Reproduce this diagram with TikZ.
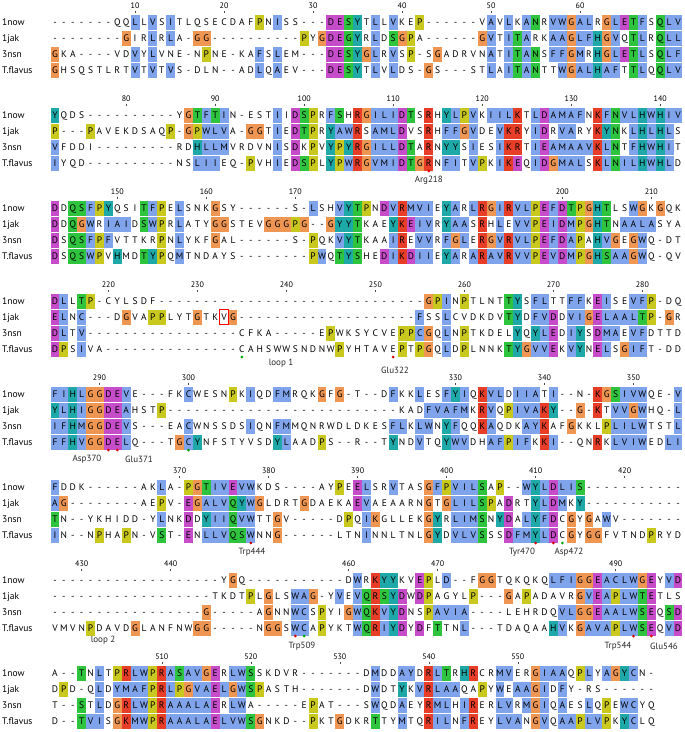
\documentclass[tikz,border=0pt]{standalone}
\usepackage{fontspec}
\setmainfont{PT Sans}

\definecolor{clxb}{RGB}{128,164,236}
\definecolor{clxr}{RGB}{232,62,40}
\definecolor{clxg}{RGB}{46,196,62}
\definecolor{clxm}{RGB}{198,76,202}
\definecolor{clxo}{RGB}{238,150,82}
\definecolor{clxy}{RGB}{200,200,30}
\definecolor{clxc}{RGB}{30,168,168}

\newcount\colno
\newcommand\rowy{0}
\newcommand\rowtag{}
\newcommand\putres[2]{%
  \pgfmathsetmacro\resx{55+(\the\colno-1)*8.9}%
  \if#2.\else\fill[clx#2] (\resx-4.45,\rowy-7.5) rectangle (\resx+4.45,\rowy+7.5);\fi
  \node[res] (\rowtag-\the\colno) at (\resx,\rowy+3.4) {#1};%
  \global\advance\colno by 1\relax}
\def\resloop#1#2\relax#3#4\relax{%
  \putres{#1}{#3}%
  \ifx\relax#2\relax\else\resloop#2\relax#4\relax\fi}
\newcommand\seqrow[5]{%
  \def\rowtag{#1}\def\rowy{#2}\global\colno=1\relax
  \node[seqname] (#1) at (2,#2+3.4) {#3};
  \resloop#4\relax#5\relax}
\newcommand\ruler[3]{%
  \foreach \num in {#3}{%
    \pgfmathsetmacro\rx{55+(\num-#2-1)*8.9}
    \node[rulenum] (num-\num) at (\rx,#1+6) {\num};
    \draw[tick] (\rx,#1+10.5) -- (\rx,#1+13);
  }}

\begin{document}
\begin{tikzpicture}[x=1pt,y=-1pt,
  res/.style={font=\fontsize{9.5}{11}\selectfont, inner sep=0pt, anchor=base},
  seqname/.style={font=\fontsize{9.5}{11}\selectfont, inner sep=0pt, anchor=base west},
  rulenum/.style={font=\fontsize{8}{9}\selectfont, inner sep=0pt},
  tick/.style={line width=0.5pt, black!70},
  site/.style={font=\fontsize{9}{10}\selectfont, inner sep=0pt, text=black!85},
  reddot/.style={circle, fill=red!85!black, inner sep=0pt, minimum size=3pt},
  greendot/.style={circle, fill=green!65!black, inner sep=0pt, minimum size=3pt}]
\useasboundingbox (0,0) rectangle (685,732);

\ruler{0}{0}{10,20,30,40,50,60}
\seqrow{k1-1now}{22}{1now}{-------QQL LVSITLQSEC DAFPNISS-- -DESYTLLVK EP------VA VLKANRVWGA LRGLETFSQL V}{.........b .b.b...... ...y.b.... .mmgc.b.b. .y.......b .b.bg.bbob b.obmgb.gb b}
\seqrow{k1-1jak}{38}{1jak}{--------GI RLRLA-GG-- --------PY GDEGYRLDSG PA------GV TITARKAAGL FHGVQTLRQL L}{........o. .b.b..oo.. ........y. ommgc.b.go y.......ob .bgb..bbob bcob.gb.gb b}
\seqrow{k1-3nsn}{54}{3nsn}{GKA----VDV YLVNE-NPNE -KAFSLEM-- -DESYGLRVS P-SGADRVNA TITANSFFGM RHGLETLSQL F}{o........b .b.....y.. ...b.b.... .mmgcob.b. y..o.....b .bgbg.bbob .cobmgb.gb b}
\seqrow{k1-tfl}{70}{T.flavus}{GHSQSTLRTV TVTVS-DLN- -ADLQAEV-- -DESYTLVLD S-GS---STL AITANTTWGA LHAFTTLQQL V}{o........b .b.b...... ...b.b.... .mmgc.b.b. ..o......b .bgbg..bob bcbb.gb.gb b}

\ruler{93}{71}{80,90,100,110,120,130,140}
\seqrow{k2-1now}{115}{1now}{YQDS------ ----YGTFTI N-ESTIIDSP RFSHRGILID TSRHYLPVKI ILKTLDAMAF NKFNVLHWHI V}{c......... .....ogbgb .....b.mgy .bg.robbbm g.r.cbyb.b bbr.bmbbbb .rbgbbcbcb b}
\seqrow{k2-1jak}{131}{1jak}{P---PAVEKD SAQP-GPWLV A-GGTIEDTP RYAWRSAMLD VSRHFFGVDE VKRYIDRVAR YKYNKLHLHL S}{y...y..... ...y.oybbb ..oo.b.mgy .cbbr.bbbm ..r.bbob.. brr.bm.bb. .rcg.bcbcb .}
\seqrow{k2-3nsn}{147}{3nsn}{VFDDI----- ----RDHLLM VRDVNISDKP VYPYRGILLD TARNYYSIES IKRTIEAMAA VKLNTFHWHI T}{b......... ......cbbb .....b.m.y .cycrobbbm g.r.cc.b.. brr.bmbbbb brbg.bcbcb .}
\seqrow{k2-tfl}{163}{T.flavus}{IYQD------ ----NSLIIE Q-PVHIEDSP LYPWRGVMID TGRNFITVPK IKEQIDGMAL SKLNILHWHL D}{b......... ......bbb. ..y..b.mgy .cybrobbbm gor.bb.by. brm.bmobbb .rbgbbcbcb .}
\node[reddot] (dot-arg218) at (428.8,171) {};
\node[site] (arg218) at (428.8,180) {Arg218};

\ruler{186}{142}{150,160,170,200,210}
\seqrow{k3-1now}{208}{1now}{DDQSFPYQSI TFPELSNKGS Y------S-L SHVYTPNDVR MVIEYARLRG IRVLPEFDTP GHTLSWGKGQ K}{m.ggbyc... gby.b...o. .........b ..bcgy.mbr bbb.cb.bro brbbymbmgy ocg..bo.o. .}
\seqrow{k3-1jak}{224}{1jak}{DDQGWRIAID SWPRLATYGG STEVGGGPG- -GYYTKAEYK EIVRYAASRH LEVVPEIDMP GHTNAALASY A}{m.gob.bbb. gby.b...oo ....oooyo. .occg...cr mbb.cbb.r. b.bbymbmby ocg.bbbb.. .}
\seqrow{k3-3nsn}{240}{3nsn}{DSQSFPFVTT KRPNLYKFGA L------S-P QKVYTKAAIR EVVRFGLERG VRVLPEFDAP AHVGEGWQ-D T}{m.ggbyb... ..y.b...o. .........y ..bcg...br .bb.bob.ro brbbymbmby .cbo.ob... .}
\seqrow{k3-tfl}{256}{T.flavus}{DSQSWPVHMD TYPQMTNDAY S--------P WQTYSHEDIK DIIEYARARA VRVVPEVDMP GHSAAGWQ-Q V}{m.ggby.c.. gcy.b..... .........y b.gcg..mbr mbb.cb.brb brbbymbmby ocgbbob... .}

\ruler{279}{213}{220,230,240,250,260,270,280}
\seqrow{k4-1now}{301}{1now}{DLLTP-CYLS DF-------- ---------- ---------- --GPINPTLN TTYSFLTTFF KEISEVFP-D Q}{mb.gy..... .......... .......... .......... ..oyb.y... .gc.bb..bb .mb..bby.. .}
\seqrow{k4-1jak}{317}{1jak}{ELNC---DGV APPLYTGTKV G--------- ---------- -FSSLCVDKD VTYDFVDDVI GELAALTP-G R}{mb.b....o. .yy...o... o......... .......... .b..b..... .gc.bbm.bb ombbbbgy.o .}
\seqrow{k4-3nsn}{333}{3nsn}{DLTV------ ---------- -CFKA----- EPWKSYCVEP PCGQLNPTKD ELYQYLEDIY SDMAEVFDTT D}{mb.b...... .......... .......... .y.......y ybo.b.y... ..c.cbm.bc .mbb.bb... .}
\seqrow{k4-tfl}{349}{T.flavus}{DPSIVA---- ---------- -CAHSWWSND NWPYHTAVEP TPGQLDPLNN KTYGVVEKVY NELSGIFT-D D}{my.b...... .......... .......... ..y......y .yo.b.y... .gcobbm.bc .mb.obb... .}
\draw[red, line width=0.8pt] (219.65,309.5) rectangle (228.55,324.5);
\node[greendot] (dot-loop1) at (241.9,357) {};
\node[reddot] (dot-glu322) at (393.2,357) {};
\node[site] (loop1) at (281,363) {loop 1};
\node[site] (glu322) at (395,370) {Glu322};

\ruler{372}{284}{290,300,330,340,350}
\seqrow{k5-1now}{394}{1now}{FIHLGGDEVE ---FKCWESN PKIQDFMRQK GFG-T--DFK KLESFYIQKV LDIIATI--N -KGSIVWQE- V}{bbcboommb. .....b.... y.b..bb... o.o.....b. .b..bcb.rb b.bbb.b... .rogbbb... b}
\seqrow{k5-1jak}{410}{1jak}{YLHIGGDEAH STP------- ---------- ---------K ADFVAFMKRV QPIVAKY--G -KTVVGWHQ- L}{cbcboommb. ..y....... .......... .......... ..bbbbb.rb .ybbbrc..o .r.bbob... b}
\seqrow{k5-3nsn}{426}{3nsn}{IFHMGGDEVS ---EACWNSS DSIQNFMMQN RWDLDKESFL KLWNYFQQKA QDKAYKAFGK KLPLILWTST L}{bbcboommb. .....b.... ..b..bb... ........bb .bb.cb..rb ...bbr..o. ..ybbbb... b}
\seqrow{k5-tfl}{442}{T.flavus}{FFHVGGDELQ ---TGCYNFS TYVSDYLAAD PS--R--TYN DVTQYWVDHA FPIFKKI--Q NRKLVIWEDL I}{bbcboommb. ....obc... .....cb... y.......c. .b..cbb..b bybb.rb... .r.bbbb..b b}
\node[reddot] (dot-asp370) at (108.4,450) {};
\node[reddot] (dot-glu371) at (117.3,450) {};
\node[greendot] (dot-cys) at (188.5,450) {};
\node[site] (asp370) at (87,459) {Asp370};
\node[site] (glu371) at (139,459) {Glu371};

\ruler{465}{355}{370,380,390,400,410,420}
\seqrow{k6-1now}{487}{1now}{FDDK------ AKLA-PGTIV EVWKDS---- AYPEELSRVT ASGFPVILSA P--WYLDLIS ---------- -}{b......... ..b..yogbb mbb....... ..y.mb..b. ..obybbbg. y..bcbmbbg .......... .}
\seqrow{k6-1jak}{503}{1jak}{AG-------- AEPV-EGALV QYWGLDRTGD AEKAEVAEAA RNGTGLILSP ADRTYLDMKY ---------- -}{bo........ ..y..mobbb gcbo....o. ....mb.... ..o.obbbgy .m..cbmb.c .......... .}
\seqrow{k6-3nsn}{519}{3nsn}{TN--YKHIDD -YLNKDDYII QVWTTGV--- --DPQIKGLL EKGYRLIMSN YDALYFDCGY GAWV------ -}{g......... ..b..m.cbb gbb..o.... ...y.bo... ..oc.bbbg. cm.bcbm.o. o.b....... .}
\seqrow{k6-tfl}{535}{T.flavus}{IN--NPHAPN -VST-ENLLV QSWNNG---- --LTNINNLT NLGYDVLVSS SDFMYLDCGY GGFVTNDPRY D}{b....y..y. ..g..m.bbb ggb..o.... .....b.... ..oc.bbbg. .mbbcbm.o. oo.....y.. .}
\node[reddot] (dot-trp444) at (250.8,543) {};
\node[reddot] (dot-tyr470) at (535.6,543) {};
\node[reddot] (dot-asp472) at (553.4,543) {};
\node[greendot] (dot-cys473) at (562.3,543) {};
\node[site] (trp444) at (252,552) {Trp444};
\node[site] (tyr470) at (522,552) {Tyr470};
\node[site] (asp472) at (569,552) {Asp472};

\ruler{558}{426}{430,440,460,470,490}
\seqrow{k7-1now}{580}{1now}{---------- ---------Y GQ-------- ---DWRKYYK VEPLD--FGG TQKQKQLFIG GEACLWGEYV D}{.......... .......... o......... ....b.rcc. .my.b...oo ......bbbo ombbbbom.b m}
\seqrow{k7-1jak}{596}{1jak}{---------- --------TK DTPLGLSWAG -YVEVQRSYD WDPAGYLP-- -GAPADAVRG VEAPLWTETL S}{.......... .......... ..y.o..bbo ..b.bgrgcm .my....y.. .o.y.....o bmbybbgm.. .}
\seqrow{k7-3nsn}{612}{3nsn}{---------- -------G-- ---AGNNWCS PYIGWQKVYD NSPAVIA--- -LEHRDQVLG GEAALWSEQS D}{.......... .......o.. ....o..bb. y..obgrbcm ..ybbbb... .......bbo ombbbbgm.g m}
\seqrow{k7-tfl}{628}{T.flavus}{VMVNPDAVDG LANFNWGG-- ---NGGSWCA PYKTWQRIYD YDFTTNL--- TDAQAAHVKG AVAPLWSEQV D}{....y....o ......oo.. ....oo.bb. y...bgrbcm .m.g..b... ......cb.o bbbybbgm.b m}
\node[site] (loop2) at (103,640) {loop 2};
\node[reddot] (dot-trp509) at (295.3,636) {};
\node[greendot] (dot-cys510) at (304.2,636) {};
\node[reddot] (dot-trp544) at (633.5,636) {};
\node[reddot] (dot-glu546) at (651.3,636) {};
\node[site] (trp509) at (302,646) {Trp509};
\node[site] (trp544) at (618,646) {Trp544};
\node[site] (glu546) at (664,646) {Glu546};

\ruler{651}{497}{510,520,530,540,550}
\seqrow{k8-1now}{673}{1now}{A--TNLTPRL WPRASAVGER LWSSKDVR-- -----DMDDA YDRLTRHRCR MVERGIAAQP LYAGYCN-}{...g.b.yrb byrbgbbom. bbg....... ......b..b b.rbg.cr.. bb..obbb.y b.bocb..}
\seqrow{k8-1jak}{689}{1jak}{DPD-QLDYMA FPRLPGVAEL GWSPASTH-- -----DWDTY KVRLAAQAPY WEAAGIDFY- RS------}{.y...b.bbb byrbyobbmb obgy...... ......b..c .brbbb..y. b.bbob.b.. ........}
\seqrow{k8-3nsn}{705}{3nsn}{T--STLDGRL WPRAAALAER LWA-----EP AT---SWQDA EYRMLHIRER LVRMGIQAES LQPEWCYQ}{...g.b.orb byrbbbbbm. bb.......y ......b..b ..rbb.br.. bb.bob.b.. b.y.bb..}
\seqrow{k8-tfl}{721}{T.flavus}{D--TVISGKM WPRAAALAEL VWSGNKD--P KTGDKRTTYM TQRILNFREY LVANGVQAAP LVPKYCLQ}{...gbb.orb byrbbbbbmb bbgo.....y ..o...g..b ..rbb.br.. bbb.ob.bby bby.cb..}
\end{tikzpicture}
\end{document}
